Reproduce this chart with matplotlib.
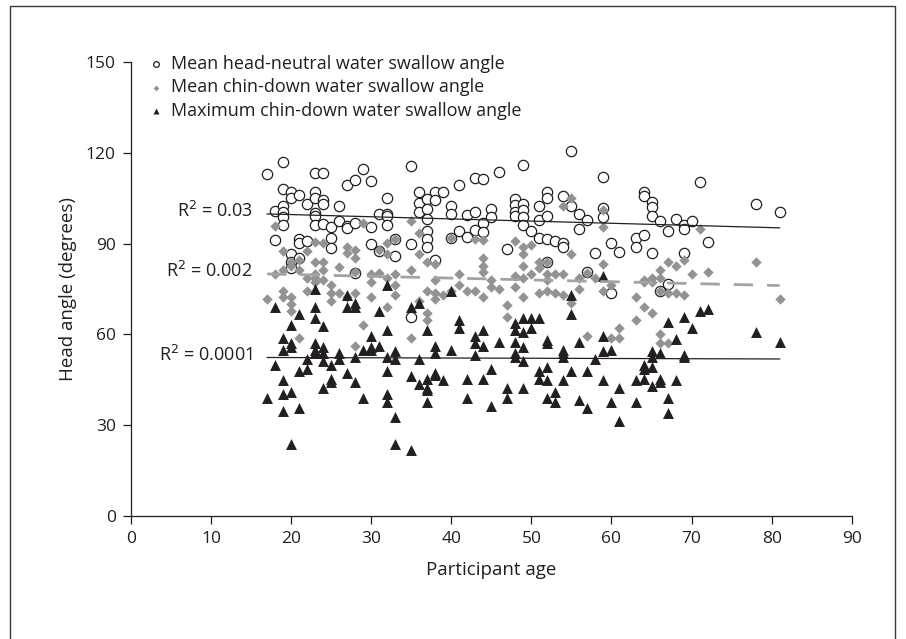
import matplotlib
matplotlib.use("Agg")
import matplotlib.pyplot as plt
from matplotlib.patches import Rectangle
import numpy as np

plt.rcParams["font.family"] = ["Open Sans", "DejaVu Sans"]

# age -> readings (degrees)
neutral = {
    17: [113], 18: [100.9, 91.1], 19: [116.9, 108.2, 102.4, 100.5, 98.8, 96],
    20: [106.9, 105, 86.4, 83.8, 81.9], 21: [106.2, 91.5, 90.2, 85.1], 22: [103, 90.9],
    23: [113.3, 106.9, 105, 100.1, 99.2, 96], 24: [113.3, 104.3, 103, 96.6],
    25: [95.6, 91.9, 88.7], 26: [102.4, 97.5], 27: [109.2, 95.7, 95.1],
    28: [111, 96.9, 80.3], 29: [114.6], 30: [110.7, 95.4, 90], 31: [99.8, 87.4],
    32: [105, 99.8, 99.2, 96], 33: [91.5, 85.8], 35: [115.6, 90, 65.7],
    36: [107.1, 103.3, 100.5], 37: [104.7, 101.5, 98.2, 94.3, 91.5, 89],
    38: [107.1, 104.3, 84.5], 39: [107.1], 40: [102.4, 99.8, 91.9], 41: [109.4, 94.3],
    42: [99.6, 92.2], 43: [111.6, 100.5, 94.5], 44: [111.2, 96.9, 93.8],
    45: [101.5, 98.9], 46: [113.7], 47: [88.3], 48: [104.6, 102.7, 100.5, 99.2],
    49: [116.1, 103, 101.1, 98.8, 96.3], 50: [94.1], 51: [102.4, 97.9, 91.8],
    52: [107.1, 105, 99.2, 91.5, 83.8], 53: [90.9], 54: [105.6, 90.2, 89],
    55: [120.7, 102.4], 56: [99.8, 94.7], 57: [97.9, 80.6], 58: [86.8],
    59: [112, 101.8, 98.8], 60: [90.2, 73.6], 61: [87.3], 63: [91.9, 89],
    64: [107.1, 105.6, 92.8], 65: [103.7, 102.1, 99.2, 87], 66: [97.3, 74.2],
    67: [94.3, 76.8], 68: [98.2], 69: [96, 94.7, 87], 70: [97.5], 71: [110.3],
    72: [90.6], 78: [103], 81: [100.5],
}

chin_mean = {
    17: [71.7], 18: [95.7, 80], 19: [87.4, 81.3, 74.2, 72.3],
    20: [83.8, 82.6, 72.3, 70, 67.8], 21: [84.5, 81.3, 58.9], 22: [87.7, 78.7, 74.2],
    23: [90.5, 83.8, 80, 78.7, 77.4], 24: [90.2, 83.8, 81.3, 78.1], 25: [76.2, 73.6, 71],
    26: [82.3, 73.6], 27: [89, 87, 72.3], 28: [87.9, 85.1, 80.6, 73.6, 56.3],
    29: [96.9, 63.1], 30: [80, 77.4, 72.3], 31: [87.9, 80.3], 32: [90.2, 86.4, 78.7, 69.1],
    33: [91.5, 80, 76.4, 73], 35: [97.3, 81.3, 58.9], 36: [93.4, 86.4, 71],
    37: [83.8, 74.2, 67.2, 64.9], 38: [83.2, 78.1, 73.6, 71.7], 39: [73],
    40: [91.8, 74.2], 41: [80, 76.4], 42: [74.2], 43: [91.5, 74.2],
    44: [91.1, 85.4, 82.6, 80.6, 72.3], 45: [78.1, 75.5], 46: [74.9], 47: [69.8, 65.9],
    48: [90.9, 79.4, 75.5], 49: [89, 86.4, 82.6, 78.7, 72.3], 50: [89.6, 80],
    51: [83.8, 81.9, 73.6], 52: [83.8, 80, 78.1, 74.2], 53: [80, 73.6],
    54: [102.4, 80, 73], 55: [105, 86.4, 70.4], 56: [78.7, 74.9], 57: [80.3, 59.5],
    58: [78.7], 59: [101.1, 95.6, 83.4, 74.2], 60: [76.2, 58.9], 61: [62.1, 58.9],
    63: [72.3, 64.6], 64: [78.1, 77.4, 69.1], 65: [78.7, 77.4, 67.2],
    66: [81.3, 78.7, 74.2, 60.2, 57], 67: [83.8, 73.6, 57], 68: [82.6, 73.6],
    69: [84.5, 73], 70: [80], 71: [94.7], 72: [80.6], 78: [83.8], 81: [71.7],
}

chin_max = {
    17: [39], 18: [69.1, 49.9], 19: [58.9, 55, 44.8, 40.3, 34.6],
    20: [63.1, 57, 55.7, 41, 23.7], 21: [66.6, 48, 35.8], 22: [51.8, 48.6],
    23: [74.9, 69.1, 65.3, 57, 55, 53.8], 24: [62.7, 55.7, 53.8, 51.2, 42.2],
    25: [49.9, 45.4, 44.2], 26: [53.8, 51.8], 27: [73, 69.1, 47.4],
    28: [70.4, 69.1, 52.5, 44.2], 29: [55, 39], 30: [59.5, 55.7, 55], 31: [67.8, 56.3],
    32: [76.2, 61.4, 52.5, 48, 40.3, 37.8], 33: [54.4, 51.8, 32.6, 23.7],
    35: [69.1, 46.1, 21.8], 36: [70.4, 51.8, 43.5], 37: [61.4, 45.4, 42.2, 41.6, 37.8],
    38: [56.3, 53.8, 47.4, 46.7], 39: [44.8], 40: [74.2, 55], 41: [64.9, 62.1],
    42: [45.4, 39], 43: [59.5, 57, 53.1], 44: [61.4, 56.3, 45.4], 45: [48.6, 36.5],
    46: [57.6], 47: [42.2, 39], 48: [63.6, 61.4, 57.6, 53.8, 52.5],
    49: [65.3, 60.8, 55.7, 51.2, 42.2], 50: [65.3, 62.1], 51: [65.3, 48, 45.4],
    52: [58.2, 57, 49.3, 44.8, 39], 53: [41, 37.8], 54: [55, 53.8, 52.5, 44.8],
    55: [73, 66.6, 48], 56: [57.6, 38.4], 57: [48, 35.8], 58: [51.8],
    59: [79.4, 59.5, 54.4, 44.8], 60: [55, 37.8], 61: [42.2, 31.4], 63: [44.8, 37.8],
    64: [49.9, 48.6, 45.4], 65: [54.4, 52.5, 49.3, 42.9], 66: [53.8, 45.4, 44.2],
    67: [64, 39, 33.9], 68: [58.5, 44.8], 69: [65.9, 53.1, 52.5], 70: [62.1],
    71: [67.8], 72: [68.5], 78: [60.8], 81: [57.6],
}

r2_labels = ["R$^2$ = 0.03", "R$^2$ = 0.002", "R$^2$ = 0.0001"]
legend_labels = ["Mean head-neutral water swallow angle",
                 "Mean chin-down water swallow angle",
                 "Maximum chin-down water swallow angle"]


def flatten(d):
    xs, ys = [], []
    for age, vals in d.items():
        xs += [age] * len(vals)
        ys += vals
    return np.array(xs, float), np.array(ys, float)


fig = plt.figure(figsize=(9.06, 6.39), dpi=100)
ax = fig.add_axes([0.1446, 0.1925, 0.7955, 0.7105])

# outer frame (bottom edge is cut off in the original)
fig.patches.append(Rectangle((0.0105, -0.05), 0.977, 1.04, transform=fig.transFigure,
                             fill=False, edgecolor="#3a3a3a", linewidth=1.0))

styles = [
    dict(marker="o", s=55, facecolors="white", edgecolors="#231f20", linewidths=0.9),
    dict(marker="D", s=28, color="#939393", linewidths=0),
    dict(marker="^", s=62, color="#231f20", linewidths=0),
]
line_styles = [
    dict(color="#231f20", lw=0.9, ls="-"),
    dict(color="#a3a3a3", lw=2.0, ls=(0, (7, 5))),
    dict(color="#231f20", lw=0.9, ls="-"),
]

for i, (d, st, lst) in enumerate(zip([neutral, chin_mean, chin_max], styles, line_styles)):
    x, y = flatten(d)
    ax.scatter(x, y, label=legend_labels[i], zorder=3, **st)
    slope, icpt = np.polyfit(x, y, 1)
    xl = np.array([x.min(), x.max()])
    ax.plot(xl, icpt + slope * xl, zorder=4, **lst)
    ax.text(15.2, icpt + slope * x.min() + 1.0, r2_labels[i], ha="right", va="center",
            fontsize=13, color="#231f20")

ax.set_xlim(0, 90)
ax.set_ylim(0, 150)
ax.set_xticks(range(0, 91, 10))
ax.set_yticks(range(0, 151, 30))
for s in ["top", "right"]:
    ax.spines[s].set_visible(False)
for s in ["left", "bottom"]:
    ax.spines[s].set_color("#231f20")
    ax.spines[s].set_linewidth(0.9)
ax.tick_params(direction="out", length=6, width=0.9, labelsize=12.5, colors="#231f20", pad=5)
ax.set_xlabel("Participant age", fontsize=13.5, color="#231f20", labelpad=10)
ax.set_ylabel("Head angle (degrees)", fontsize=13.5, color="#231f20", labelpad=6)

leg = ax.legend(loc="upper left", bbox_to_anchor=(0.0, 1.04), frameon=False, fontsize=13,
                handletextpad=0.0, handlelength=1.6, labelspacing=0.32, markerscale=0.55,
                borderaxespad=0.2)
for t in leg.get_texts():
    t.set_color("#231f20")

fig.savefig("out.png", dpi=100, facecolor="white")
